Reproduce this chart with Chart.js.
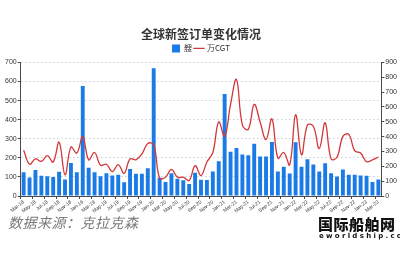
<!DOCTYPE html>
<html lang="zh">
<head>
<meta charset="utf-8">
<title>全球新签订单变化情况</title>
<script src="https://cdn.jsdelivr.net/npm/chart.js@4.4.1/dist/chart.umd.min.js"></script>
<style>
  html, body { margin: 0; padding: 0; background: #fff; }
  body { width: 400px; height: 267px; position: relative; overflow: hidden; font-family: "Noto Sans CJK SC", "Noto Sans", sans-serif; }
  #caixa { position: absolute; left: 0; top: 0; width: 400px; height: 214px; }
  .fonte { position: absolute; left: 8px; top: 212px; font-size: 14px; font-style: italic; color: #7a7a7a; letter-spacing: 0.5px; }
  .marca { position: absolute; left: 318px; top: 216px; font-size: 15px; font-weight: 900; color: #111; letter-spacing: 0.5px; line-height: 16px; }
  .marca small { display: block; font-family: "DejaVu Sans", sans-serif; font-size: 7px; font-weight: bold; letter-spacing: 2.3px; line-height: 9px; margin-left: 1px; }
</style>
</head>
<body>
<div id="caixa"><canvas id="grafico"></canvas></div>
<div class="fonte">数据来源：克拉克森</div>
<div class="marca">国际船舶网<small>eworldship.com</small></div>

<script>
// ===== Dados (mar/2018 a mar/2023) =====
const MESES = [
  'Mar-18', 'Apr-18', 'May-18', 'Jun-18', 'Jul-18', 'Aug-18', 'Sep-18', 'Oct-18', 'Nov-18', 'Dec-18',
  'Jan-19', 'Feb-19', 'Mar-19', 'Apr-19', 'May-19', 'Jun-19', 'Jul-19', 'Aug-19', 'Sep-19', 'Oct-19',
  'Nov-19', 'Dec-19', 'Jan-20', 'Feb-20', 'Mar-20', 'Apr-20', 'May-20', 'Jun-20', 'Jul-20', 'Aug-20',
  'Sep-20', 'Oct-20', 'Nov-20', 'Dec-20', 'Jan-21', 'Feb-21', 'Mar-21', 'Apr-21', 'May-21', 'Jun-21',
  'Jul-21', 'Aug-21', 'Sep-21', 'Oct-21', 'Nov-21', 'Dec-21', 'Jan-22', 'Feb-22', 'Mar-22', 'Apr-22',
  'May-22', 'Jun-22', 'Jul-22', 'Aug-22', 'Sep-22', 'Oct-22', 'Nov-22', 'Dec-22', 'Jan-23', 'Feb-23',
  'Mar-23',
];

// número de navios (艘), eixo esquerdo
const NAVIOS = [
  124, 97, 136, 106, 104, 99, 127, 86, 173, 124,
  576, 148, 124, 104, 119, 107, 111, 72, 141, 116,
  116, 145, 670, 96, 74, 119, 91, 83, 63, 122,
  85, 84, 128, 182, 535, 232, 251, 217, 214, 274,
  207, 207, 283, 128, 153, 118, 282, 153, 193, 165,
  128, 171, 119, 102, 139, 111, 111, 107, 106, 74,
  86,
];

// 万CGT, eixo direito
const CGT = [
  309, 214, 250, 233, 272, 229, 363, 142, 330, 289,
  401, 244, 293, 207, 214, 164, 212, 153, 250, 244,
  283, 354, 345, 121, 127, 179, 127, 127, 104, 205,
  138, 229, 293, 499, 401, 617, 785, 477, 449, 617,
  499, 380, 520, 255, 293, 210, 548, 278, 478, 470,
  320, 493, 250, 261, 402, 415, 304, 290, 231, 243,
  263,
];

const TICKS_ESQ = { min: 0, max: 700, passo: 50 };
const TICKS_DIR = { min: 0, max: 900, passo: 100 };

// ===== Cores =====
const AZUL = '#1b7be6';
const VERMELHO = '#d2383b';
const EIXO = '#4a4a4a';
const GRADE = '#c9ced8';

const ctx = document.getElementById('grafico');

new Chart(ctx, {
  data: {
    labels: MESES,
    datasets: [
      {
        type: 'bar',
        label: '艘',
        data: NAVIOS,
        yAxisID: 'y',
        backgroundColor: AZUL,
        borderWidth: 0,
        barPercentage: 0.66,
        categoryPercentage: 1,
        order: 2,
        pointStyle: 'rect',
      },
      {
        type: 'line',
        label: '万CGT',
        data: CGT,
        yAxisID: 'y1',
        borderColor: VERMELHO,
        backgroundColor: VERMELHO,
        borderWidth: 1.3,
        pointRadius: 0,
        tension: 0.4,
        fill: false,
        order: 1,
        pointStyle: 'line',
      },
    ],
  },
  options: {
    responsive: true,
    maintainAspectRatio: false,
    animation: false,
    layout: { padding: { left: 4, right: 2, top: 0, bottom: 0 } },
    plugins: {
      title: {
        display: true,
        text: '全球新签订单变化情况',
        color: '#333',
        font: { size: 12, weight: 'bold', family: '"Noto Sans CJK SC", sans-serif' },
        padding: { top: 27, bottom: 0 },
      },
      legend: {
        display: true,
        labels: {
          usePointStyle: true,
          boxWidth: 8,
          boxHeight: 8,
          padding: 3,
          color: '#333',
          font: { size: 8, family: '"Noto Sans CJK SC", sans-serif' },
          sort: (a, b) => a.datasetIndex - b.datasetIndex,
        },
      },
      tooltip: { enabled: false },
    },
    scales: {
      x: {
        grid: {
          drawOnChartArea: false,
          tickLength: 3,
          tickColor: (c) => (c.index % 2 === 0 ? EIXO : 'transparent'),
        },
        border: { color: EIXO, width: 1 },
        ticks: {
          autoSkip: false,
          maxRotation: 38,
          minRotation: 38,
          padding: 0,
          color: '#333',
          font: { size: 5 },
          callback: (v, i) => (i % 2 === 0 ? MESES[i] : ''),
        },
      },
      y: {
        position: 'left',
        min: TICKS_ESQ.min,
        max: TICKS_ESQ.max,
        grid: {
          color: (c) => (c.tick.value === 0 ? 'transparent' : GRADE),
          tickLength: 3,
          tickColor: (c) => (c.tick.value % 100 === 0 ? EIXO : 'transparent'),
        },
        border: { color: EIXO, width: 1, dash: [1.5, 2.5] },
        ticks: {
          stepSize: TICKS_ESQ.passo,
          padding: 1,
          color: '#333',
          font: { size: 7 },
          callback: (v) => (v % 100 === 0 ? v : ''),
        },
      },
      y1: {
        position: 'right',
        min: TICKS_DIR.min,
        max: TICKS_DIR.max,
        grid: { drawOnChartArea: false, tickLength: 3, tickColor: EIXO },
        border: { color: EIXO, width: 1 },
        ticks: {
          stepSize: TICKS_DIR.passo,
          padding: 1,
          color: '#333',
          font: { size: 7 },
        },
      },
    },
  },
});
</script>
</body>
</html>
